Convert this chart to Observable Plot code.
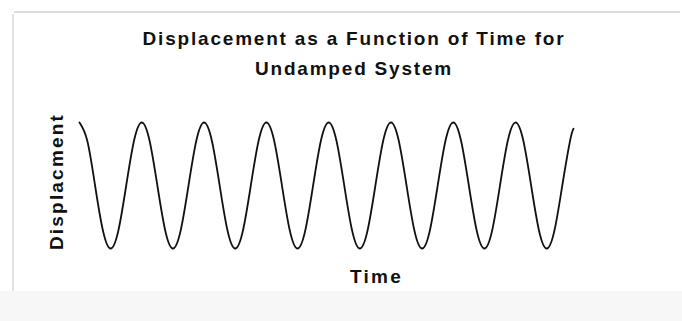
<!DOCTYPE html>
<html>
<head>
<meta charset="utf-8">
<script src="https://cdn.jsdelivr.net/npm/d3@7"></script>
<script src="https://cdn.jsdelivr.net/npm/@observablehq/plot@0.6"></script>
<style>
  html, body { margin: 0; padding: 0; background: #ffffff; }
  #wrap { position: relative; width: 682px; height: 321px; overflow: hidden; background: #ffffff; font-family: "Liberation Sans", Arial, sans-serif; }
  #topline { position: absolute; left: 14px; top: 11px; width: 666px; height: 2px; background: #dcdcdc; }
  #leftline { position: absolute; left: 12px; top: 14px; width: 2px; height: 277px; background: #e2e2e2; }
  #bottom { position: absolute; left: 0; top: 291px; width: 682px; height: 30px; background: #f7f7f7; }
  .title { position: absolute; left: 0; width: 708px; text-align: center; font-weight: bold; font-size: 19px; line-height: 22px; color: #111; letter-spacing: 1.8px; white-space: nowrap; }
  #t1 { top: 28px; }
  #t2 { top: 58px; }
  #plot { position: absolute; left: 0; top: 0; }
</style>
</head>
<body>
<div id="wrap">
  <div id="bottom"></div>
  <div id="topline"></div>
  <div id="leftline"></div>
  <div id="plot"></div>
  <div class="title" id="t1"></div>
  <div class="title" id="t2"></div>
</div>
<script>
const titleLines = ["Displacement as a Function of Time for", "Undamped System"];
const xLabel = "Time";
const yLabel = "Displacment";

// samples, in units of one period
const time = [
  0, 0.125, 0.25, 0.375, 0.5, 0.625, 0.75, 0.875,
  1, 1.125, 1.25, 1.375, 1.5, 1.625, 1.75, 1.875,
  2, 2.125, 2.25, 2.375, 2.5, 2.625, 2.75, 2.875,
  3, 3.125, 3.25, 3.375, 3.5, 3.625, 3.75, 3.875,
  4, 4.125, 4.25, 4.375, 4.5, 4.625, 4.75, 4.875,
  5, 5.125, 5.25, 5.375, 5.5, 5.625, 5.75, 5.875,
  6, 6.125, 6.25, 6.375, 6.5, 6.625, 6.75, 6.875,
  7, 7.125, 7.25, 7.375, 7.5, 7.625, 7.75, 7.875, 7.93
];
const displacement = [
  1, 0.71, 0, -0.71, -1, -0.71, 0, 0.71,
  1, 0.71, 0, -0.71, -1, -0.71, 0, 0.71,
  1, 0.71, 0, -0.71, -1, -0.71, 0, 0.71,
  1, 0.71, 0, -0.71, -1, -0.71, 0, 0.71,
  1, 0.71, 0, -0.71, -1, -0.71, 0, 0.71,
  1, 0.71, 0, -0.71, -1, -0.71, 0, 0.71,
  1, 0.71, 0, -0.71, -1, -0.71, 0, 0.71,
  1, 0.71, 0, -0.71, -1, -0.71, 0, 0.71, 0.9
];

const data = time.map((t, i) => ({t, d: displacement[i]}));

const chart = Plot.plot({
  width: 682,
  height: 321,
  marginLeft: 79,
  marginRight: 109,
  marginTop: 122,
  marginBottom: 73,
  style: {background: "transparent", fontFamily: "Liberation Sans, Arial, sans-serif"},
  x: {domain: [0, 7.93], axis: null},
  y: {domain: [-1, 1], axis: null},
  marks: [
    Plot.line(data, {x: "t", y: "d", curve: "natural", stroke: "#111", strokeWidth: 1.8}),
    Plot.text([xLabel], {frameAnchor: "bottom", textAnchor: "middle", lineAnchor: "middle", dx: 50, dy: 28, text: d => d, fontSize: 19, fontWeight: "bold", fill: "#111"}),
    Plot.text([yLabel], {frameAnchor: "left", textAnchor: "middle", lineAnchor: "middle", dx: -23, dy: -4, rotate: -90, text: d => d, fontSize: 19, fontWeight: "bold", fill: "#111"})
  ]
});
d3.select(chart).selectAll("text").attr("letter-spacing", "2.2px");
document.getElementById("plot").appendChild(chart);
document.getElementById("t1").textContent = titleLines[0];
document.getElementById("t2").textContent = titleLines[1];
</script>
</body>
</html>
